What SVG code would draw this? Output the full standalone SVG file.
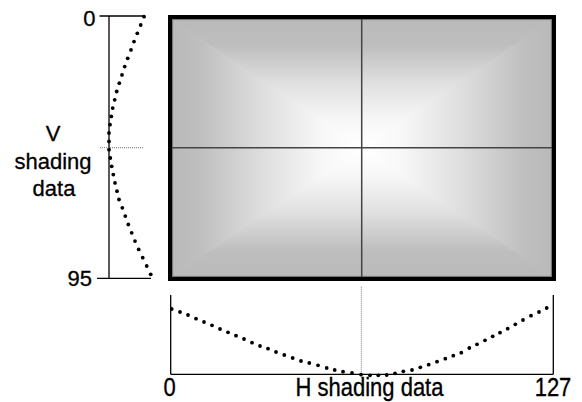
<svg xmlns="http://www.w3.org/2000/svg" width="582" height="402" viewBox="0 0 582 402">
<style>
  .lbl { font-family: "Liberation Sans", Arial, sans-serif; font-size: 22px; fill: #000; stroke: #000; stroke-width: 0.3; }
  .axis { stroke: #000; stroke-width: 1.3; fill: none; }
  .guide { stroke: #777; stroke-width: 1; stroke-dasharray: 1 1; fill: none; }
  .dots circle { fill: #000; }
  .cross { stroke: #444; stroke-width: 1.5; }
  .tri { shape-rendering: crispEdges; }
</style>
<defs>
  <linearGradient id="gT" gradientUnits="userSpaceOnUse" x1="0" y1="19" x2="0" y2="148">
    <stop offset="0" stop-color="#bababa"/>
    <stop offset="0.2" stop-color="#bebebe"/>
    <stop offset="0.5" stop-color="#e0e0e0"/>
    <stop offset="0.8" stop-color="#f8f8f8"/>
    <stop offset="1" stop-color="#ffffff"/>
  </linearGradient>
  <linearGradient id="gB" gradientUnits="userSpaceOnUse" x1="0" y1="277" x2="0" y2="148">
    <stop offset="0" stop-color="#bababa"/>
    <stop offset="0.2" stop-color="#bebebe"/>
    <stop offset="0.5" stop-color="#e0e0e0"/>
    <stop offset="0.8" stop-color="#f8f8f8"/>
    <stop offset="1" stop-color="#ffffff"/>
  </linearGradient>
  <linearGradient id="gL" gradientUnits="userSpaceOnUse" x1="172" y1="0" x2="362" y2="0">
    <stop offset="0" stop-color="#bababa"/>
    <stop offset="0.14" stop-color="#bebebe"/>
    <stop offset="0.5" stop-color="#e0e0e0"/>
    <stop offset="0.8" stop-color="#f8f8f8"/>
    <stop offset="1" stop-color="#ffffff"/>
  </linearGradient>
  <linearGradient id="gR" gradientUnits="userSpaceOnUse" x1="552" y1="0" x2="362" y2="0">
    <stop offset="0" stop-color="#bababa"/>
    <stop offset="0.14" stop-color="#bebebe"/>
    <stop offset="0.5" stop-color="#e0e0e0"/>
    <stop offset="0.8" stop-color="#f8f8f8"/>
    <stop offset="1" stop-color="#ffffff"/>
  </linearGradient>
</defs>

<g id="shading-image">
  <rect x="172" y="19" width="380" height="258" fill="#d8d8d8"/>
  <polygon class="tri" points="172,19 172,277 362,148" fill="url(#gL)"/>
  <polygon class="tri" points="552,19 552,277 362,148" fill="url(#gR)"/>
  <polygon class="tri" points="172,19 552,19 362,148" fill="url(#gT)"/>
  <polygon class="tri" points="172,277 552,277 362,148" fill="url(#gB)"/>
  <rect x="172.5" y="19.5" width="379" height="257" fill="none" stroke="#777" stroke-width="1.2"/>
  <line class="cross" x1="361.7" y1="19" x2="361.7" y2="277"/>
  <line class="cross" x1="172" y1="147.7" x2="552" y2="147.7"/>
  <rect x="170" y="17" width="384" height="262" fill="none" stroke="#000" stroke-width="4"/>
</g>

<g id="v-axis">
  <line class="axis" x1="109" y1="16" x2="109" y2="278.3"/>
  <line class="axis" x1="99.5" y1="16" x2="144" y2="16"/>
  <line class="axis" x1="97" y1="278.3" x2="151" y2="278.3"/>
  <line class="guide" x1="100" y1="147.7" x2="143" y2="147.7"/>
  <text class="lbl" x="95.5" y="26" text-anchor="end">0</text>
  <text class="lbl" x="92" y="285.5" text-anchor="end">95</text>
  <text class="lbl" x="53" y="141" text-anchor="middle">V</text>
  <text class="lbl" x="53" y="168.5" text-anchor="middle">shading</text>
  <text class="lbl" x="54" y="196" text-anchor="middle">data</text>
</g>

<g id="v-curve" class="dots">
  <circle cx="144" cy="16.7" r="1.9"/>
  <circle cx="140.7" cy="25" r="1.9"/>
  <circle cx="137.3" cy="33.3" r="1.9"/>
  <circle cx="134" cy="41.6" r="1.9"/>
  <circle cx="131" cy="49.9" r="1.9"/>
  <circle cx="127.7" cy="58.3" r="1.9"/>
  <circle cx="124.7" cy="66.6" r="1.9"/>
  <circle cx="122" cy="74.9" r="1.9"/>
  <circle cx="119.3" cy="83.2" r="1.9"/>
  <circle cx="116.7" cy="91.5" r="1.9"/>
  <circle cx="114.7" cy="99.8" r="1.9"/>
  <circle cx="112.7" cy="108.1" r="1.9"/>
  <circle cx="111.3" cy="116.4" r="1.9"/>
  <circle cx="110" cy="124.7" r="1.9"/>
  <circle cx="109" cy="133" r="1.9"/>
  <circle cx="109" cy="141.4" r="1.9"/>
  <circle cx="109" cy="149.7" r="1.9"/>
  <circle cx="110.3" cy="158" r="1.9"/>
  <circle cx="111.7" cy="166.3" r="1.9"/>
  <circle cx="113.3" cy="174.6" r="1.9"/>
  <circle cx="115" cy="182.9" r="1.9"/>
  <circle cx="117" cy="191.2" r="1.9"/>
  <circle cx="119" cy="199.5" r="1.9"/>
  <circle cx="122.3" cy="207.8" r="1.9"/>
  <circle cx="125.3" cy="216.1" r="1.9"/>
  <circle cx="128.3" cy="224.5" r="1.9"/>
  <circle cx="131.7" cy="232.8" r="1.9"/>
  <circle cx="135" cy="241.1" r="1.9"/>
  <circle cx="138.7" cy="249.4" r="1.9"/>
  <circle cx="142.7" cy="257.7" r="1.9"/>
  <circle cx="146.7" cy="266" r="1.9"/>
  <circle cx="150.7" cy="274.3" r="1.9"/>
</g>

<g id="h-axis">
  <line class="guide" x1="361.3" y1="286.7" x2="361.3" y2="378"/>
  <line class="axis" x1="170.7" y1="295" x2="170.7" y2="374.3"/>
  <line class="axis" x1="553.3" y1="295" x2="553.3" y2="374.3"/>
  <line class="axis" x1="170.7" y1="374.3" x2="553.3" y2="374.3"/>
  <text class="lbl" text-anchor="middle" transform="translate(169.5,396) scale(1,1.15)">0</text>
  <text class="lbl" text-anchor="middle" transform="translate(369.5,396) scale(1,1.15)">H shading data</text>
  <text class="lbl" text-anchor="middle" transform="translate(553,396) scale(1,1.15)">127</text>
</g>

<g id="h-curve" class="dots">
  <circle cx="171.7" cy="309" r="1.9"/>
  <circle cx="180" cy="312" r="1.9"/>
  <circle cx="188" cy="315" r="1.9"/>
  <circle cx="196" cy="318.7" r="1.9"/>
  <circle cx="204" cy="322" r="1.9"/>
  <circle cx="212" cy="325.3" r="1.9"/>
  <circle cx="220" cy="329" r="1.9"/>
  <circle cx="228" cy="332.3" r="1.9"/>
  <circle cx="236" cy="335.7" r="1.9"/>
  <circle cx="244" cy="339" r="1.9"/>
  <circle cx="252" cy="342.7" r="1.9"/>
  <circle cx="260" cy="346" r="1.9"/>
  <circle cx="268" cy="348.7" r="1.9"/>
  <circle cx="276" cy="352" r="1.9"/>
  <circle cx="284.3" cy="355" r="1.9"/>
  <circle cx="292.7" cy="358" r="1.9"/>
  <circle cx="301" cy="361" r="1.9"/>
  <circle cx="309.3" cy="363" r="1.9"/>
  <circle cx="318" cy="365.3" r="1.9"/>
  <circle cx="326.7" cy="368" r="1.9"/>
  <circle cx="334.7" cy="370" r="1.9"/>
  <circle cx="343" cy="371.7" r="1.9"/>
  <circle cx="352" cy="373" r="1.9"/>
  <circle cx="361" cy="374.6" r="1.9"/>
  <circle cx="370" cy="375.3" r="1.9"/>
  <circle cx="378.3" cy="375.3" r="1.9"/>
  <circle cx="386.7" cy="375" r="1.9"/>
  <circle cx="395" cy="373.3" r="1.9"/>
  <circle cx="403.3" cy="371.3" r="1.9"/>
  <circle cx="412" cy="370" r="1.9"/>
  <circle cx="420.3" cy="367.3" r="1.9"/>
  <circle cx="428.7" cy="364.7" r="1.9"/>
  <circle cx="437" cy="361.7" r="1.9"/>
  <circle cx="445.3" cy="358.7" r="1.9"/>
  <circle cx="453.3" cy="355.7" r="1.9"/>
  <circle cx="461.3" cy="352.7" r="1.9"/>
  <circle cx="469.3" cy="348" r="1.9"/>
  <circle cx="477" cy="344.3" r="1.9"/>
  <circle cx="485" cy="340.3" r="1.9"/>
  <circle cx="492.7" cy="336.3" r="1.9"/>
  <circle cx="500" cy="332.7" r="1.9"/>
  <circle cx="507.7" cy="328.7" r="1.9"/>
  <circle cx="515.3" cy="324.3" r="1.9"/>
  <circle cx="523" cy="320" r="1.9"/>
  <circle cx="531" cy="315.7" r="1.9"/>
  <circle cx="539" cy="312" r="1.9"/>
  <circle cx="546.7" cy="308" r="1.9"/>
</g>
</svg>
